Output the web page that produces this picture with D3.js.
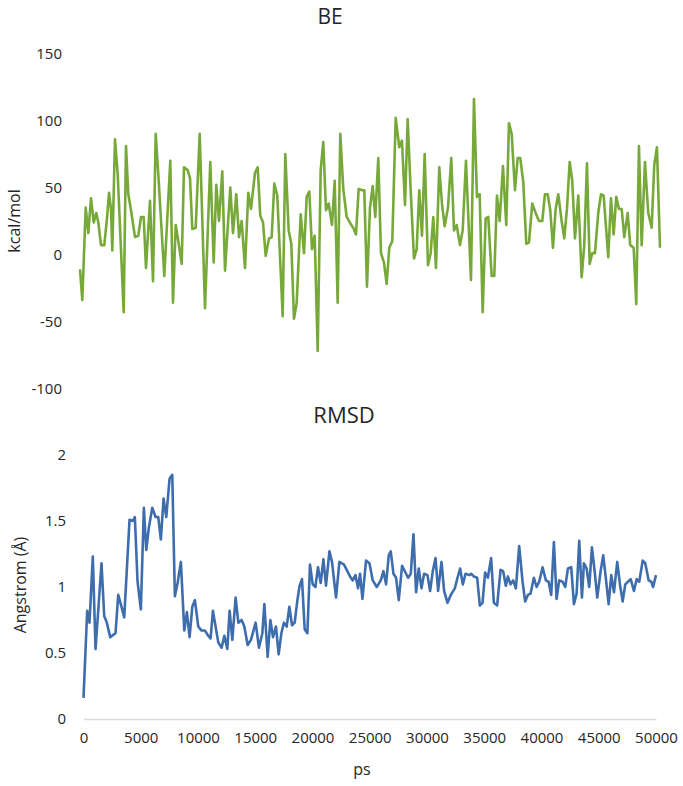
<!DOCTYPE html>
<html>
<head>
<meta charset="utf-8">
<script src="https://cdn.jsdelivr.net/npm/d3@7"></script>
<style>
  body { margin: 0; background: #fff; }
  svg text { font-family: "Open Sans", sans-serif; fill: #262626; }
</style>
</head>
<body>
<div id="chart"></div>
<script>
// BE (kcal/mol), ps vs value
var beTime = [0,198,491,716,948,1181,1405,1577,1810,2095,2327,2500,2672,2784,3017,3250,3767,3965,4163,4396,
  4741,5025,5258,5491,5689,6034,6293,6525,6749,7267,7784,8017,8249,8422,8767,8965,9284,9482,9680,9973,
  10318,10775,11232,11525,11749,11982,12266,12499,12956,13189,13473,13706,13938,14223,14507,14740,15085,15318,15542,15775,
  16007,16292,16525,16749,17007,17473,17697,17990,18214,18447,18680,19025,19309,19542,19766,19999,20231,20490,20748,20972,
  21205,21438,21722,21955,22214,22438,22696,22990,23386,23558,23791,24024,24308,24507,24739,24998,25231,25455,25713,25946,
  26205,26438,26662,26921,27214,27524,27756,28015,28248,28506,28791,29024,29248,29480,29713,29998,30230,30455,30687,30972,
  31204,31437,31722,32006,32239,32472,32756,32989,33273,33704,33963,34221,34454,34713,34971,35195,35488,35713,35945,36178,
  36463,36747,36980,37213,37497,37730,37954,38212,38471,38704,38988,39281,39566,39850,40083,40316,40540,40773,41005,41229,
  41522,41746,41979,42212,42436,42669,42953,43247,43471,43703,43936,44160,44393,44677,44910,45143,45367,45539,45772,46005,
  46229,46462,46695,46919,47212,47436,47729,47953,48186,48419,48703,48988,49281,49505,49737,50000];
var beValue = [-11,-34,35,16,42,24,31,24,7,7,27,46,34,3,86,60,-43,81,45,33,
  13,14,28,28,-10,40,-20,90,60,-16,70,-36,22,13,-7,65,63,57,19,20,
  90,-40,69,-6,52,25,62,-12,50,16,45,13,25,-10,46,34,61,65,29,24,
  -1,12,13,53,44,-46,75,18,8,-48,-36,30,1,43,47,4,14,-72,63,84,
  33,38,22,55,-36,90,49,28,22,20,15,49,48,48,-24,35,51,28,72,1,
  -6,-22,5,10,102,80,85,37,101,48,-3,4,48,14,75,-8,1,28,-10,65,
  38,21,35,72,18,22,7,18,70,-19,116,43,45,-43,27,28,-16,-16,44,25,
  66,22,98,90,48,72,72,54,8,9,38,31,25,25,45,45,33,5,34,45,
  25,12,34,69,55,12,44,-17,7,68,-7,1,1,31,45,44,18,-2,42,15,
  43,34,34,13,31,7,5,-37,81,7,69,31,20,67,80,5];

// RMSD (Angstrom)
var rmsdTime = [0,323,524,813,1049,1285,1573,1809,2037,2334,2797,3033,3322,3558,4021,4309,4484,4720,5009,5271,
  5481,5708,6005,6294,6530,6757,6993,7229,7517,7753,7980,8217,8505,8802,9030,9265,9501,9729,10026,10314,
  10603,10900,11101,11302,11538,11774,12063,12299,12561,12762,12998,13286,13522,13811,14047,14335,14624,15035,15323,15620,
  15795,16083,16319,16547,16809,17045,17281,17508,17744,17980,18208,18444,18680,18854,19082,19318,19554,19781,20017,20253,
  20480,20716,20952,21179,21477,21704,22054,22351,22753,23277,23513,23750,23977,24152,24361,24676,24973,25262,25611,25961,
  26197,26424,26660,26835,27071,27298,27534,27823,28120,28347,28583,28819,29046,29282,29518,29746,30043,30270,30506,30742,
  30969,31267,31494,31791,32079,32429,32665,32892,33128,33364,33714,33854,34090,34379,34614,34850,35078,35314,35602,35838,
  36127,36424,36651,36887,37062,37298,37525,37761,38050,38347,38574,38810,39046,39335,39571,39798,40095,40383,40619,40847,
  41083,41319,41546,41843,42071,42307,42595,42831,43067,43295,43531,43706,43942,44169,44405,44641,44868,45165,45392,45628,
  45864,46092,46328,46616,46852,47088,47315,47551,47787,48076,48312,48539,48837,49064,49361,49588,49750,50000];
var rmsdValue = [0.16,0.82,0.73,1.23,0.53,0.82,1.18,0.78,0.73,0.62,0.65,0.94,0.85,0.77,1.51,1.50,1.53,1.04,0.83,1.60,
  1.28,1.45,1.60,1.53,1.53,1.36,1.67,1.53,1.82,1.85,0.93,1.03,1.19,0.67,0.81,0.62,0.85,0.90,0.70,0.67,
  0.67,0.63,0.61,0.82,0.70,0.58,0.54,0.63,0.53,0.82,0.60,0.92,0.73,0.75,0.70,0.56,0.60,0.73,0.54,0.65,
  0.87,0.47,0.75,0.62,0.70,0.49,0.65,0.73,0.70,0.85,0.71,0.73,0.90,1.00,1.06,0.68,0.65,1.17,1.02,1.00,
  1.15,1.03,1.21,1.01,1.27,1.19,0.92,1.19,1.17,1.08,1.05,1.09,0.99,1.10,0.91,1.20,1.18,1.05,1.00,1.05,
  1.12,1.02,1.24,1.27,1.10,1.07,0.90,1.16,1.11,1.07,1.10,1.40,0.96,1.14,0.99,1.10,1.09,0.97,1.12,1.22,
  0.97,1.19,0.97,0.88,0.94,0.99,1.07,1.14,1.02,1.10,1.09,1.10,1.08,1.07,0.86,0.88,1.11,1.07,1.22,0.88,
  0.86,1.13,1.12,1.01,1.08,1.02,1.05,0.99,1.31,1.04,0.89,0.94,0.95,1.07,1.00,1.04,1.15,1.05,1.04,0.94,
  1.34,0.91,1.05,1.04,1.00,1.14,1.15,0.87,0.95,1.35,0.92,1.18,1.14,1.00,1.30,1.12,0.92,1.12,1.24,1.06,
  0.87,1.09,0.96,1.19,1.02,0.89,1.02,1.04,1.06,0.97,1.06,1.04,1.20,1.18,1.05,1.04,1.00,1.09];

var xTicks = [0,5000,10000,15000,20000,25000,30000,35000,40000,45000,50000];
var beTicks = [-100,-50,0,50,100,150];
var rmsdTicks = [0,0.5,1,1.5,2];

var width = 683, height = 786;

// plain hyphen minus, like the original tick labels
var plain = d => String(d);

var svg = d3.select('#chart').append('svg')
    .attr('width', width)
    .attr('height', height);

// ---- BE panel ----
var xTop = d3.scaleLinear().domain([0, 50000]).range([80, 660]);
var yTop = d3.scaleLinear().domain([-100, 150]).range([388.5, 53.5]);

var gTop = svg.append('g');

gTop.append('g')
    .attr('transform', 'translate(62,0)')
    .call(d3.axisLeft(yTop).tickValues(beTicks).tickFormat(plain).tickSize(0).tickPadding(0))
    .call(g => g.select('.domain').remove())
    .selectAll('text')
    .style('font-size', '15px')
    .style('fill', '#262626');

gTop.append('path')
    .datum(beTime.map((t, i) => [t, beValue[i]]))
    .attr('fill', 'none')
    .attr('stroke', '#77a93a')
    .attr('stroke-width', 2.6)
    .attr('stroke-linejoin', 'round')
    .attr('d', d3.line().x(d => xTop(d[0])).y(d => yTop(d[1])));

gTop.append('text')
    .attr('x', 330)
    .attr('y', 24)
    .attr('text-anchor', 'middle')
    .style('font-size', '21px')
    .text('BE');

gTop.append('text')
    .attr('transform', 'translate(20,221) rotate(-90)')
    .attr('text-anchor', 'middle')
    .style('font-size', '16px')
    .text('kcal/mol');

// ---- RMSD panel ----
var xBot = d3.scaleLinear().domain([0, 50000]).range([83.5, 656]);
var yBot = d3.scaleLinear().domain([0, 2]).range([719, 455]);

var gBot = svg.append('g');

gBot.append('g')
    .attr('transform', 'translate(66,0)')
    .call(d3.axisLeft(yBot).tickValues(rmsdTicks).tickFormat(plain).tickSize(0).tickPadding(0))
    .call(g => g.select('.domain').remove())
    .selectAll('text')
    .style('font-size', '15px')
    .style('fill', '#262626');

// x axis
var xAxis = gBot.append('g')
    .attr('transform', 'translate(0,719)')
    .call(d3.axisBottom(xBot).tickValues(xTicks).tickFormat(plain).tickSize(0).tickPadding(13));
xAxis.select('.domain').attr('stroke', '#d9d9d9').attr('stroke-width', 1.3);
xAxis.selectAll('text').style('font-size', '15px').style('fill', '#262626');

gBot.append('path')
    .datum(rmsdTime.map((t, i) => [t, rmsdValue[i]]))
    .attr('fill', 'none')
    .attr('stroke', '#3e6dae')
    .attr('stroke-width', 2.6)
    .attr('stroke-linejoin', 'round')
    .attr('d', d3.line().x(d => xBot(d[0])).y(d => yBot(d[1])));

gBot.append('text')
    .attr('x', 344)
    .attr('y', 423)
    .attr('text-anchor', 'middle')
    .style('font-size', '22px')
    .text('RMSD');

gBot.append('text')
    .attr('transform', 'translate(26,585) rotate(-90)')
    .attr('text-anchor', 'middle')
    .style('font-size', '16px')
    .text('Angstrom (Å)');

gBot.append('text')
    .attr('x', 362)
    .attr('y', 775)
    .attr('text-anchor', 'middle')
    .style('font-size', '16px')
    .text('ps');
</script>
</body>
</html>
